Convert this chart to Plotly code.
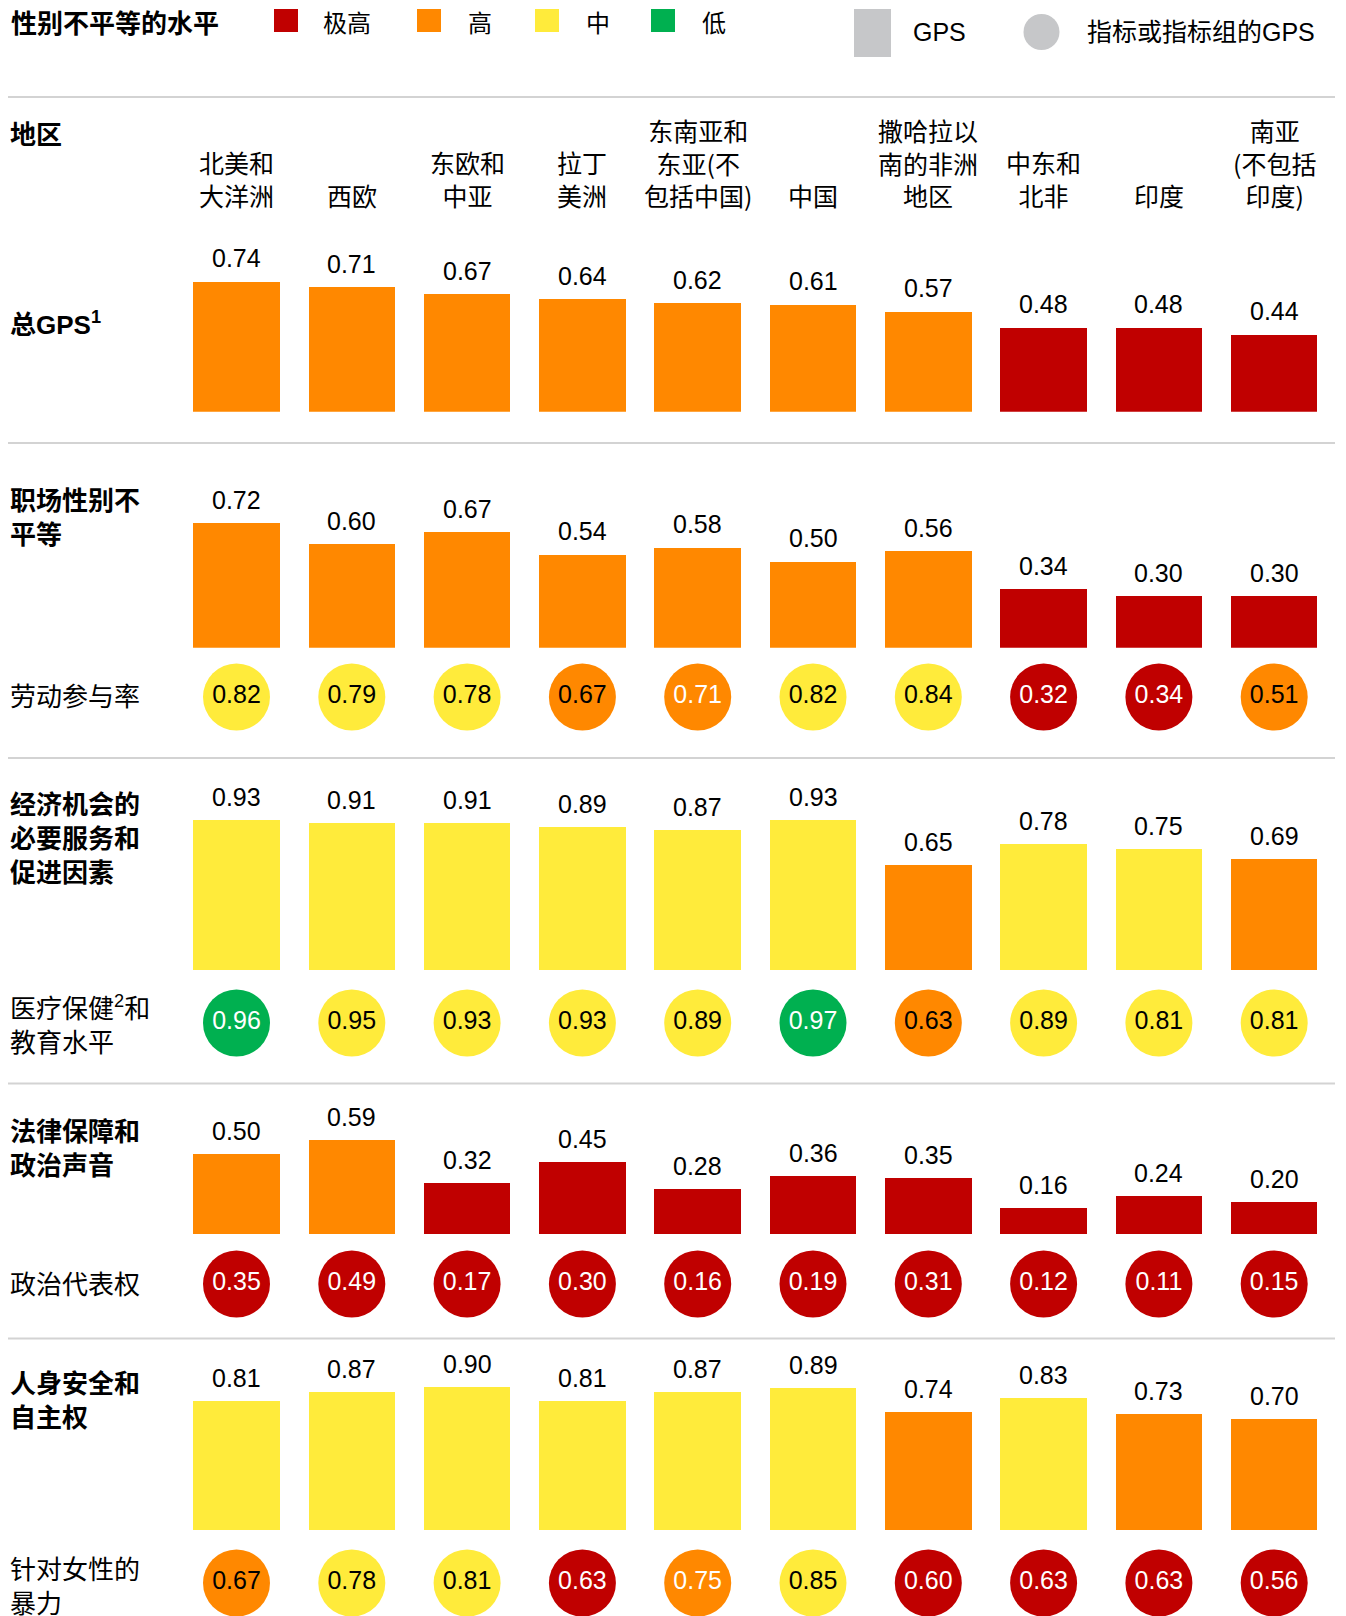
import plotly.graph_objects as go

W, H = 1346, 1616

# ---------------- data ----------------
regions = ["北美和<br>大洋洲", "西欧", "东欧和<br>中亚", "拉丁<br>美洲",
           "东南亚和<br>东亚(不<br>包括中国)", "中国", "撒哈拉以<br>南的非洲<br>地区",
           "中东和<br>北非", "印度", "南亚<br>(不包括<br>印度)"]

level_names = ["极高", "高", "中", "低"]
level_colors = {"极高": "#C00000", "高": "#FF8800", "中": "#FFEB3B", "低": "#00B050"}
level_text = {"极高": "white", "高": "black", "中": "black", "低": "white"}

gps_total = [0.74, 0.71, 0.67, 0.64, 0.62, 0.61, 0.57, 0.48, 0.48, 0.44]
gps_total_lv = ["高", "高", "高", "高", "高", "高", "高", "极高", "极高", "极高"]

workplace = [0.72, 0.60, 0.67, 0.54, 0.58, 0.50, 0.56, 0.34, 0.30, 0.30]
workplace_lv = ["高", "高", "高", "高", "高", "高", "高", "极高", "极高", "极高"]
labor = [0.82, 0.79, 0.78, 0.67, 0.71, 0.82, 0.84, 0.32, 0.34, 0.51]
labor_lv = ["中", "中", "中", "高", "高", "中", "中", "极高", "极高", "高"]

essential = [0.93, 0.91, 0.91, 0.89, 0.87, 0.93, 0.65, 0.78, 0.75, 0.69]
essential_lv = ["中", "中", "中", "中", "中", "中", "高", "中", "中", "高"]
health_edu = [0.96, 0.95, 0.93, 0.93, 0.89, 0.97, 0.63, 0.89, 0.81, 0.81]
health_edu_lv = ["低", "中", "中", "中", "中", "低", "高", "中", "中", "中"]

legal = [0.50, 0.59, 0.32, 0.45, 0.28, 0.36, 0.35, 0.16, 0.24, 0.20]
legal_lv = ["高", "高", "极高", "极高", "极高", "极高", "极高", "极高", "极高", "极高"]
political = [0.35, 0.49, 0.17, 0.30, 0.16, 0.19, 0.31, 0.12, 0.11, 0.15]
political_lv = ["极高"] * 10

safety = [0.81, 0.87, 0.90, 0.81, 0.87, 0.89, 0.74, 0.83, 0.73, 0.70]
safety_lv = ["中", "中", "中", "中", "中", "中", "高", "中", "高", "高"]
violence = [0.67, 0.78, 0.81, 0.63, 0.75, 0.85, 0.60, 0.63, 0.63, 0.56]
violence_lv = ["高", "中", "中", "极高", "高", "中", "极高", "极高", "极高", "极高"]

# circles whose label is printed in white although the fill is orange
white_orange = {("labor", 4), ("violence", 4)}

# ---------------- layout helpers ----------------
CJK = "Noto Sans CJK SC"
NUM = "Liberation Sans, Arial, Noto Sans CJK SC"
OFF = 8                      # page body margin of the html page
COL0, STEP = 236.5 - OFF, 115.3


def px(x):
    return (x - OFF) / W


def py(y):
    return 1 - (y - OFF) / H


fig = go.Figure()
layout_axes = {}
annotations = []
shapes = []

# bar rows: (values, levels, baseline px, pixels per unit)
bar_rows = [
    (gps_total, gps_total_lv, 411.7, 176),
    (workplace, workplace_lv, 647.7, 173),
    (essential, essential_lv, 970.0, 161),
    (legal, legal_lv, 1234.0, 160),
    (safety, safety_lv, 1530.0, 159),
]
# circle rows: (name, values, levels, centre px)
circle_rows = [
    ("labor", labor, labor_lv, 697),
    ("health", health_edu, health_edu_lv, 1023),
    ("political", political, political_lv, 1284),
    ("violence", violence, violence_lv, 1583),
]

ax_n = 0
for vals, lvs, base, ppu in bar_rows:
    ax_n += 1
    name = "yaxis" if ax_n == 1 else f"yaxis{ax_n}"
    ref = "y" if ax_n == 1 else f"y{ax_n}"
    layout_axes[name] = dict(domain=[py(base), py(base - ppu)], range=[0, 1],
                             visible=False, anchor="x", fixedrange=True)
    fig.add_trace(go.Bar(x=regions, y=vals, width=0.75,
                         marker=dict(color=[level_colors[l] for l in lvs], line_width=0),
                         xaxis="x", yaxis=ref, showlegend=False, hoverinfo="skip"))
    for r, v in zip(regions, vals):
        annotations.append(dict(x=r, y=v, xref="x", yref=ref, text=f"{v:.2f}",
                                showarrow=False, yanchor="middle", yshift=23,
                                font=dict(family=NUM, size=25, color="black")))

for cname, vals, lvs, cy in circle_rows:
    ax_n += 1
    name = f"yaxis{ax_n}"
    ref = f"y{ax_n}"
    layout_axes[name] = dict(domain=[py(cy + 30), py(cy - 30)], range=[-1, 1],
                             visible=False, anchor="x", fixedrange=True)
    tcol = []
    for i, l in enumerate(lvs):
        c = level_text[l]
        if (cname, i) in white_orange:
            c = "white"
        tcol.append(c)
    fig.add_trace(go.Scatter(x=regions, y=[0] * len(vals), mode="markers+text",
                             text=[f"{v:.2f}" for v in vals], textposition="middle center",
                             textfont=dict(family=NUM, size=25, color=tcol),
                             marker=dict(size=67, color=[level_colors[l] for l in lvs],
                                         line_width=0),
                             cliponaxis=False, xaxis="x", yaxis=ref,
                             showlegend=False, hoverinfo="skip"))

# column headers
for r in regions:
    annotations.append(dict(x=r, y=py(215), xref="x", yref="paper", text=r,
                            showarrow=False, yanchor="bottom", align="center",
                            font=dict(family=CJK, size=25, color="black")))

# row labels (text, centre y px, bold)
row_labels = [
    ("地区", 135, True),
    ("总GPS<sup>1</sup>", 323, True),
    ("职场性别不<br>平等", 518, True),
    ("劳动参与率", 697, False),
    ("经济机会的<br>必要服务和<br>促进因素", 839, True),
    ("医疗保健<sup>2</sup>和<br>教育水平", 1025, False),
    ("法律保障和<br>政治声音", 1149, True),
    ("政治代表权", 1285, False),
    ("人身安全和<br>自主权", 1401, True),
    ("针对女性的<br>暴力", 1587, False),
]
for txt, cy, bold in row_labels:
    annotations.append(dict(x=px(8), y=py(cy), xref="paper", yref="paper",
                            text=f"<b>{txt}</b>" if bold else txt, showarrow=False,
                            xanchor="left", yanchor="middle", align="left",
                            font=dict(family=NUM, size=26, color="black")))

# separators
for y in [97, 443, 758, 1083.5, 1338.5]:
    shapes.append(dict(type="line", xref="paper", yref="paper", x0=px(7), x1=px(1335),
                       y0=py(y), y1=py(y), line=dict(color="#D3D3D3", width=2)))

# legend (top)
annotations.append(dict(x=px(9), y=py(21.5), xref="paper", yref="paper",
                        text="<b>性别不平等的水平</b>", showarrow=False,
                        xanchor="left", yanchor="middle",
                        font=dict(family=CJK, size=26, color="black")))
leg_sq_x = [274, 417, 535, 651]
leg_tx_x = [321, 466, 584, 700]
for lv, sx, tx in zip(level_names, leg_sq_x, leg_tx_x):
    shapes.append(dict(type="rect", xref="paper", yref="paper", x0=px(sx), x1=px(sx + 24),
                       y0=py(32), y1=py(9), fillcolor=level_colors[lv], line_width=0))
    annotations.append(dict(x=px(tx), y=py(21.5), xref="paper", yref="paper", text=lv,
                            showarrow=False, xanchor="left", yanchor="middle",
                            font=dict(family=CJK, size=24, color="black")))

shapes.append(dict(type="rect", xref="paper", yref="paper", x0=px(854), x1=px(891),
                   y0=py(57), y1=py(9), fillcolor="#C6C7C9", line_width=0))
annotations.append(dict(x=px(911), y=py(32), xref="paper", yref="paper", text="GPS",
                        showarrow=False, xanchor="left", yanchor="middle",
                        font=dict(family=NUM, size=25, color="black")))
shapes.append(dict(type="circle", xref="paper", yref="paper", x0=px(1023.5), x1=px(1059.5),
                   y0=py(50), y1=py(14), fillcolor="#C6C7C9", line_width=0))
annotations.append(dict(x=px(1085), y=py(32), xref="paper", yref="paper",
                        text="指标或指标组的GPS", showarrow=False, xanchor="left",
                        yanchor="middle", font=dict(family=NUM, size=25, color="black")))

fig.update_layout(
    width=W, height=H, autosize=False,
    margin=dict(l=0, r=0, t=0, b=0),
    paper_bgcolor="white", plot_bgcolor="white",
    xaxis=dict(type="category", categoryarray=regions, range=[-COL0 / STEP, (W - COL0) / STEP],
               visible=False, domain=[0, 1], fixedrange=True, anchor="y"),
    annotations=annotations, shapes=shapes,
    bargap=0, showlegend=False,
    **layout_axes,
)

fig.write_html("out.html", config={"displayModeBar": False})
